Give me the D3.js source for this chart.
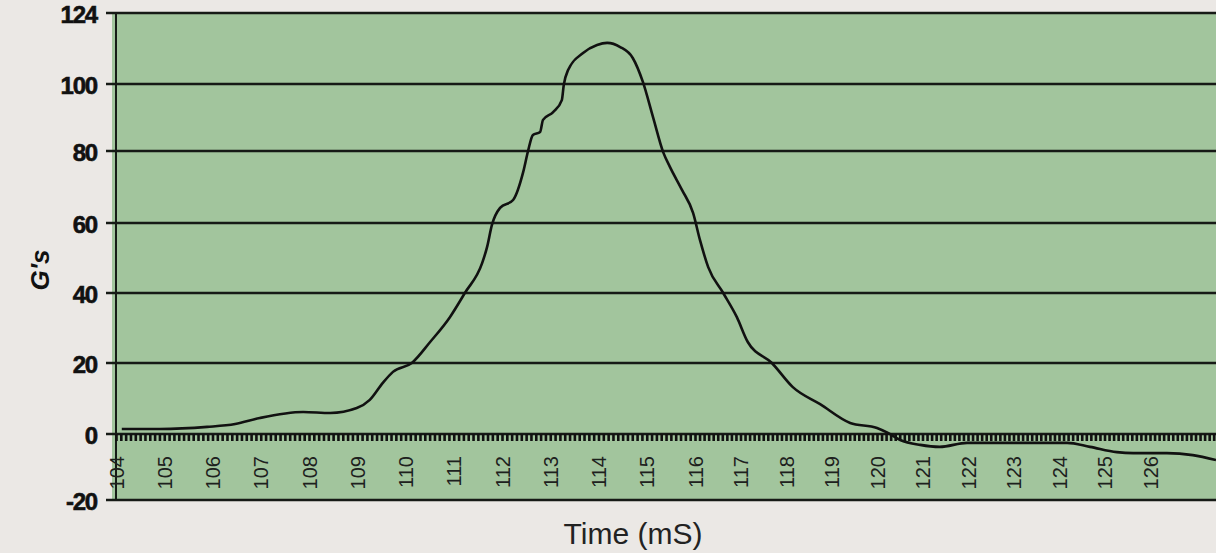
<!DOCTYPE html>
<html>
<head>
<meta charset="utf-8">
<script src="https://cdn.jsdelivr.net/npm/d3@7"></script>
<style>
  body { margin: 0; background: #ebe8e5; }
  svg { display: block; }
</style>
</head>
<body>
<svg id="chart" width="1216" height="553"></svg>
<script>
// G's over time

const timeMs = [
  104.12, 104.91, 105.89, 106.47, 106.98, 107.88, 108.44, 108.99, 109.26, 109.53,
  109.74, 110.13, 110.51, 110.92, 111.23, 111.59, 111.69, 111.79, 111.96, 112.23,
  112.44, 112.54, 112.64, 112.79, 112.85, 113.06, 113.24, 113.28, 113.37, 113.68,
  113.97, 114.18, 114.45, 114.71, 114.92, 115.13, 115.34, 115.48, 115.73, 115.96,
  116.11, 116.29, 116.62, 116.92, 117.16, 117.69, 118.15, 118.75, 119.41, 120.0,
  120.24, 120.51, 120.95, 121.38, 121.98, 122.7, 123.43, 124.18, 124.68, 125.27,
  125.63, 126.37, 126.94, 127.45
];
const gForce = [
  1.4, 1.4, 2.0, 2.8, 4.5, 6.2, 5.9, 7.3, 9.6, 14.4,
  17.5, 20, 26, 33.1, 40, 48.6, 53.1, 59.4, 64.2, 66.4,
  74.2, 80, 84.8, 85.7, 89.3, 91.6, 95.2, 99.7, 104.7, 110.5,
  113.2, 113.9, 112.5, 108.8, 100.7, 90.1, 79.7, 75.6, 69.2, 62.8,
  55.1, 47.4, 40, 33.1, 26, 20, 13.2, 8.4, 3.1, 1.7,
  0.3, -1.8, -3.3, -3.9, -2.7, -2.7, -2.7, -2.7, -3.9, -5.5,
  -5.8, -5.8, -6.4, -7.9
];

const yTicks = [-20, 0, 20, 40, 60, 80, 100, 124];
const xTicks = [104, 105, 106, 107, 108, 109, 110, 111, 112, 113, 114, 115,
  116, 117, 118, 119, 120, 121, 122, 123, 124, 125, 126];

const svg = d3.select('#chart'),
  width = +svg.attr('width'),
  height = +svg.attr('height'),
  plot = { left: 116, top: 13, bottom: 500 };

// the printed grid is not evenly spaced, so both scales use several stops
const x = d3.scaleLinear()
  .domain([104, 116, 126])
  .range([116, 695, 1150]);

const y = d3.scaleLinear()
  .domain(yTicks)
  .range([500, 434, 363, 293, 223, 151, 84, 13]);

const data = timeMs.map((t, i) => ({ t, g: gForce[i] }));

// green plot area
svg.append('rect')
  .attr('x', plot.left - 4)
  .attr('y', plot.top)
  .attr('width', width - plot.left + 4)
  .attr('height', plot.bottom - plot.top)
  .attr('fill', '#a2c59d');

// horizontal grid lines (they stick out left as ticks)
svg.append('g')
  .selectAll('line')
  .data(yTicks)
  .enter()
  .append('line')
  .attr('x1', plot.left - 10)
  .attr('x2', width)
  .attr('y1', (d) => y(d))
  .attr('y2', (d) => y(d))
  .attr('stroke', '#161a16')
  .attr('stroke-width', 2.6);

// vertical axis line
svg.append('line')
  .attr('x1', plot.left)
  .attr('x2', plot.left)
  .attr('y1', plot.top)
  .attr('y2', plot.bottom)
  .attr('stroke', '#161a16')
  .attr('stroke-width', 2);

// y labels (plain hyphen for the minus, like the print)
const yAxis = svg.append('g')
  .attr('transform', `translate(${plot.left},0)`)
  .call(d3.axisLeft(y).tickValues(yTicks).tickSize(0).tickPadding(19)
    .tickFormat((d) => String(d)));
yAxis.select('.domain').remove();
yAxis.selectAll('text')
  .attr('dy', '0.38em')
  .style('font-family', '"Liberation Sans", Arial, sans-serif')
  .style('font-weight', 'bold')
  .style('font-size', '24px')
  .style('letter-spacing', '-1.2px')
  .style('stroke', '#111')
  .style('stroke-width', 0.6)
  .style('fill', '#111');

// dense minor ticks along the zero line
const minorTicks = d3.range(1040, 1275).map((d) => d / 10);
const xMinor = svg.append('g')
  .attr('transform', `translate(0,${y(0)})`)
  .call(d3.axisBottom(x).tickValues(minorTicks).tickSize(7).tickFormat(''));
xMinor.select('.domain').remove();
xMinor.selectAll('line')
  .attr('stroke', '#111')
  .attr('stroke-width', 2.6);

// rotated x labels
const xAxis = svg.append('g')
  .attr('transform', `translate(0,${y(0)})`)
  .call(d3.axisBottom(x).tickValues(xTicks).tickSize(0));
xAxis.select('.domain').remove();
xAxis.selectAll('text')
  .attr('transform', 'rotate(-90)')
  .attr('x', -22)
  .attr('y', 0)
  .attr('dy', '0.36em')
  .attr('text-anchor', 'end')
  .style('font-family', '"Liberation Sans Narrow", "Arial Narrow", "Liberation Sans", sans-serif')
  .style('font-stretch', 'condensed')
  .style('font-size', '20px')
  .style('fill', '#1d211d');

// the curve
const line = d3.line()
  .x((d) => x(d.t))
  .y((d) => y(d.g))
  .curve(d3.curveMonotoneX);

svg.append('path')
  .datum(data)
  .attr('d', line)
  .attr('fill', 'none')
  .attr('stroke', '#111')
  .attr('stroke-width', 2.6);

// axis titles
svg.append('text')
  .attr('transform', 'translate(49,270) rotate(-90)')
  .attr('text-anchor', 'middle')
  .style('font-family', '"Liberation Sans", Arial, sans-serif')
  .style('font-weight', 'bold')
  .style('font-style', 'italic')
  .style('font-size', '26px')
  .style('fill', '#111')
  .text("G's");

svg.append('text')
  .attr('x', 633)
  .attr('y', 544)
  .attr('text-anchor', 'middle')
  .style('font-family', '"Liberation Sans", Arial, sans-serif')
  .style('font-size', '30px')
  .style('fill', '#222')
  .text('Time (mS)');
</script>
</body>
</html>
